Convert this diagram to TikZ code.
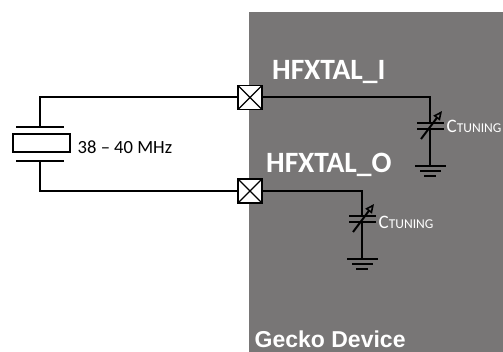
\documentclass[tikz,border=0pt]{standalone}
\usepackage{fontspec}
\setmainfont{Carlito}
\newfontfamily\headfont{Liberation Sans}
\usetikzlibrary{arrows.meta}
\definecolor{devgray}{RGB}{120,118,118}
\tikzset{
  wire/.style={line width=2pt, line cap=rect},
  pinbox/.style={draw, fill=white, line width=1.4pt, minimum size=24pt, inner sep=0pt,
    path picture={\draw[line width=1.2pt] (path picture bounding box.north west) -- (path picture bounding box.south east)
      (path picture bounding box.north east) -- (path picture bounding box.south west);}},
  pinlabel/.style={text=white, font=\bfseries\fontsize{29.5}{29.5}\selectfont, anchor=base west, inner sep=0pt},
  caplabel/.style={text=white, anchor=west, inner sep=0pt},
  varcap/.pic={
    \draw[wire] (-12.5,-3.2) -- (12.5,-3.2);
    \draw[wire] (-12.5,3.2) -- (12.5,3.2);
    \draw[line width=2pt, -{Triangle[open, length=9pt, width=8pt, line width=1.6pt]}] (-9,13) -- (12,-15);
  },
  ground/.pic={
    \draw[wire] (-14.5,0) -- (14.5,0);
    \draw[wire] (-9.5,5) -- (9.5,5);
    \draw[wire] (-5,10) -- (5,10);
  }
}
\begin{document}
\begin{tikzpicture}[x=1pt,y=-1pt]
\useasboundingbox (0,0) rectangle (503,352);
\fill[devgray] (249,12) rectangle (503,352);
% pins
\node[pinbox] (pI) at (250,97.5) {};
\node[pinbox] (pO) at (250,191) {};
% crystal
\coordinate (xtT) at (40,127);
\coordinate (xtB) at (40,161);
\draw[wire] (pI.west) -| (xtT);
\draw[wire] (pO.west) -| (xtB);
\draw[wire] (17,127) -- (63,127);
\draw[wire] (17,161) -- (63,161);
\node[draw, line width=2pt, minimum width=57pt, minimum height=18pt, inner sep=0pt] (xtal) at (41,143.5) {};
\node[anchor=west, inner sep=0pt, font=\fontsize{18.6}{20}\selectfont] (freq) at (77.5,147.5) {38 – 40 MHz};
% labels
\node[pinlabel] (lI) at (272,80) {HFXTAL\_I};
\node[pinlabel] (lO) at (266,173) {HFXTAL\_O};
\node[text=white, font=\headfont\bfseries\fontsize{23}{23}\selectfont, anchor=base west, inner sep=0pt] (gecko) at (254.5,348) {Gecko Device};
% top tuning cap
\coordinate (c1top) at (430,122.8);
\coordinate (c1bot) at (430,129.2);
\coordinate (g1) at (430,166);
\draw[wire] (pI.east) -| (c1top);
\pic at (430,126) {varcap};
\draw[wire] (c1bot) -- (g1);
\pic at (g1) {ground};
\node[caplabel] (t1) at (446.5,126) {\fontsize{19}{19}\selectfont C\fontsize{13.5}{13.5}\selectfont TUNING};
% bottom tuning cap
\coordinate (c2top) at (362,215.8);
\coordinate (c2bot) at (362,222.2);
\coordinate (g2) at (362,259);
\draw[wire] (pO.east) -| (c2top);
\pic at (362,219) {varcap};
\draw[wire] (c2bot) -- (g2);
\pic at (g2) {ground};
\node[caplabel] (t2) at (378.5,222) {\fontsize{19}{19}\selectfont C\fontsize{13.5}{13.5}\selectfont TUNING};
\end{tikzpicture}
\end{document}
